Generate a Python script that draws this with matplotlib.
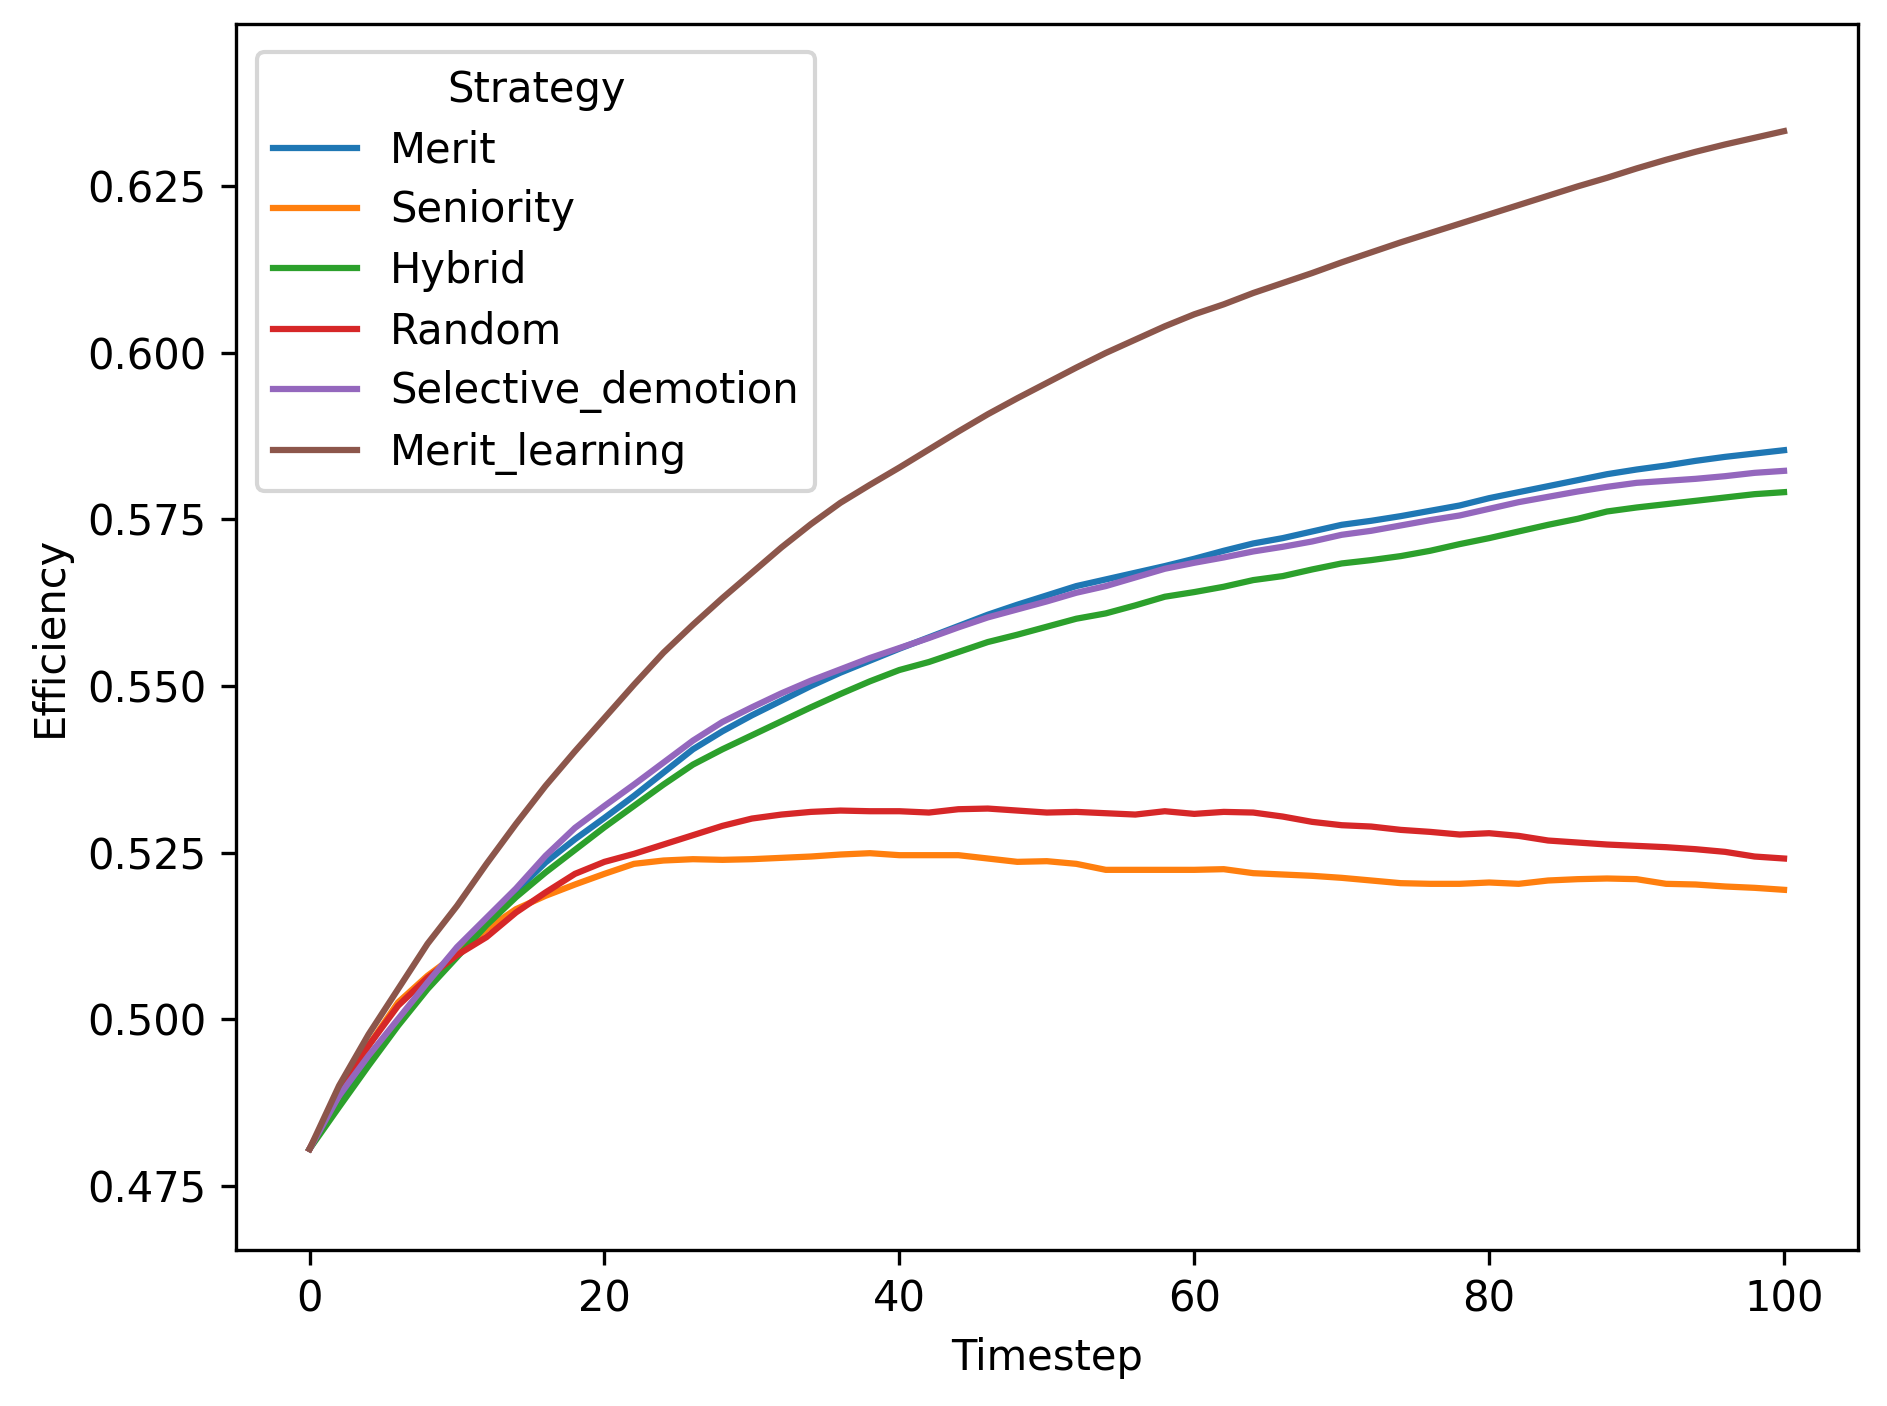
import matplotlib
matplotlib.use("Agg")
import matplotlib.pyplot as plt

timesteps = list(range(0, 101, 2))

merit = [0.4805, 0.4880, 0.4940, 0.4995, 0.5050, 0.5100, 0.5148, 0.5192, 0.5235, 0.5270,
         0.5302, 0.5335, 0.5370, 0.5405, 0.5432, 0.5456, 0.5478, 0.5500, 0.5520, 0.5538,
         0.5556, 0.5573, 0.5590, 0.5607, 0.5622, 0.5636, 0.5650, 0.5660, 0.5670, 0.5680,
         0.5691, 0.5703, 0.5714, 0.5722, 0.5732, 0.5742, 0.5748, 0.5755, 0.5763, 0.5771,
         0.5782, 0.5791, 0.5800, 0.5809, 0.5818, 0.5825, 0.5831, 0.5838, 0.5844, 0.5849,
         0.5854]
seniority = [0.4805, 0.4885, 0.4960, 0.5025, 0.5065, 0.5098, 0.5135, 0.5165, 0.5185, 0.5202,
             0.5218, 0.5233, 0.5238, 0.5240, 0.5239, 0.5240, 0.5242, 0.5244, 0.5247, 0.5249,
             0.5246, 0.5246, 0.5246, 0.5241, 0.5236, 0.5237, 0.5233, 0.5224, 0.5224, 0.5224,
             0.5224, 0.5225, 0.5219, 0.5217, 0.5215, 0.5212, 0.5208, 0.5204, 0.5203, 0.5203,
             0.5205, 0.5203, 0.5208, 0.5210, 0.5211, 0.5210, 0.5203, 0.5202, 0.5199, 0.5197,
             0.5194]
hybrid = [0.4805, 0.4868, 0.4930, 0.4990, 0.5045, 0.5093, 0.5141, 0.5183, 0.5220, 0.5254,
          0.5288, 0.5320, 0.5352, 0.5382, 0.5405, 0.5426, 0.5447, 0.5468, 0.5488, 0.5507,
          0.5524, 0.5536, 0.5551, 0.5566, 0.5577, 0.5589, 0.5601, 0.5609, 0.5621, 0.5634,
          0.5641, 0.5649, 0.5659, 0.5665, 0.5675, 0.5684, 0.5689, 0.5695, 0.5703, 0.5713,
          0.5722, 0.5732, 0.5742, 0.5751, 0.5762, 0.5768, 0.5773, 0.5778, 0.5783, 0.5788,
          0.5791]
random_ = [0.4805, 0.4890, 0.4960, 0.5020, 0.5062, 0.5096, 0.5123, 0.5160, 0.5190, 0.5218,
           0.5236, 0.5248, 0.5262, 0.5276, 0.5290, 0.5301, 0.5307, 0.5311, 0.5313, 0.5312,
           0.5312, 0.5310, 0.5315, 0.5316, 0.5313, 0.5310, 0.5311, 0.5309, 0.5307, 0.5312,
           0.5308, 0.5311, 0.5310, 0.5304, 0.5296, 0.5291, 0.5289, 0.5284, 0.5281, 0.5277,
           0.5279, 0.5275, 0.5268, 0.5265, 0.5262, 0.5260, 0.5258, 0.5255, 0.5251, 0.5244,
           0.5241]
selective = [0.4805, 0.4885, 0.4945, 0.5000, 0.5055, 0.5108, 0.5152, 0.5196, 0.5245, 0.5287,
             0.5320, 0.5352, 0.5385, 0.5418, 0.5446, 0.5468, 0.5489, 0.5508, 0.5525, 0.5542,
             0.5557, 0.5572, 0.5588, 0.5603, 0.5615, 0.5627, 0.5640, 0.5650, 0.5663, 0.5676,
             0.5685, 0.5693, 0.5702, 0.5709, 0.5717, 0.5727, 0.5733, 0.5741, 0.5749, 0.5756,
             0.5766, 0.5776, 0.5784, 0.5792, 0.5799, 0.5805, 0.5808, 0.5811, 0.5815, 0.5820,
             0.5823]
merit_learning = [0.4805, 0.4900, 0.4977, 0.5045, 0.5113, 0.5170, 0.5233, 0.5293, 0.5350, 0.5402,
                  0.5452, 0.5502, 0.5550, 0.5592, 0.5632, 0.5670, 0.5708, 0.5743, 0.5775, 0.5802,
                  0.5828, 0.5855, 0.5882, 0.5908, 0.5932, 0.5955, 0.5978, 0.6000, 0.6020, 0.6040,
                  0.6058, 0.6073, 0.6090, 0.6105, 0.6120, 0.6136, 0.6151, 0.6166, 0.6180, 0.6194,
                  0.6208, 0.6222, 0.6236, 0.6250, 0.6263, 0.6277, 0.6290, 0.6302, 0.6313, 0.6323,
                  0.6333]

series = [("Merit", merit), ("Seniority", seniority), ("Hybrid", hybrid),
          ("Random", random_), ("Selective_demotion", selective),
          ("Merit_learning", merit_learning)]

fig, ax = plt.subplots(figsize=(1887 / 300, 1406 / 300), dpi=300)
plt.subplots_adjust(left=0.125, right=0.9845, top=0.983, bottom=0.1113)

for name, vals in series:
    ax.plot(timesteps, vals, label=name)

ax.set_xlim(-5, 105)
ax.set_ylim(0.4654, 0.6494)
ax.set_yticks([0.475, 0.500, 0.525, 0.550, 0.575, 0.600, 0.625])
ax.set_xlabel("Timestep")
ax.set_ylabel("Efficiency")
ax.legend(title="Strategy", loc="upper left", bbox_to_anchor=(0, 0.994),
          labelspacing=0.44)

plt.savefig("out.png", dpi=300)
